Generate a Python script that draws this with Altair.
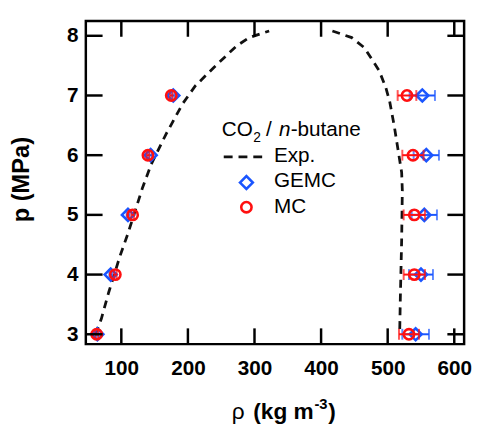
import altair as alt
import pandas as pd

# ---- data ----
pressure = [3, 4, 5, 6, 7]
gemc_vap = [64, 84, 110, 144, 178]
gemc_vap_err = [2, 2, 2, 2, 2]
mc_vap = [63, 91, 117, 140, 175]
mc_vap_err = [2, 2, 2, 2, 2]
gemc_liq = [542, 550, 555, 558, 552]
gemc_liq_err = [20, 18, 19, 19, 19]
mc_liq = [532, 540, 540, 538, 529]
mc_liq_err = [15, 16, 16, 16, 14]

exp_vap_rho = [61, 70, 81, 98, 110, 132, 145, 167, 192, 211, 239, 273, 292, 322]
exp_vap_p = [3.0, 3.26, 3.7, 4.31, 4.69, 5.46, 5.85, 6.35, 6.86, 7.16, 7.47, 7.83, 7.97, 8.08]
exp_liq_rho = [417, 446, 465, 487, 497, 503, 510, 517, 521, 522, 521, 519, 518]
exp_liq_p = [8.08, 7.97, 7.8, 7.42, 7.14, 6.9, 6.48, 5.99, 5.71, 5.41, 4.58, 3.6, 3.0]

x_ticks = [100, 200, 300, 400, 500, 600]
y_ticks = [3, 4, 5, 6, 7, 8]

# ---- layout ----
W, H = 384, 328
FONT = "Liberation Sans"
BLUE = "#1a55ff"
RED = "#ff1010"
BLACK = "#000000"

xs = alt.Scale(domain=[46.7, 614.8], nice=False, zero=False)
ys = alt.Scale(domain=[2.835, 8.248], nice=False, zero=False)
x_axis = alt.Axis(values=x_ticks, title=None, labelPadding=14, format="d")
y_axis = alt.Axis(values=y_ticks, title=None, labelPadding=8, format="d")


def X(field):
    return alt.X(field, type="quantitative", scale=xs, axis=x_axis)


def Y(field):
    return alt.Y(field, type="quantitative", scale=ys, axis=y_axis)


exp_df = pd.DataFrame({
    "rho": exp_vap_rho + exp_liq_rho,
    "p": exp_vap_p + exp_liq_p,
    "branch": ["vap"] * len(exp_vap_rho) + ["liq"] * len(exp_liq_rho),
    "i": list(range(len(exp_vap_rho) + len(exp_liq_rho))),
})


def sim_df(vap, vap_err, liq, liq_err):
    rho = vap + liq
    err = vap_err + liq_err
    return pd.DataFrame({
        "rho": rho,
        "p": pressure + pressure,
        "lo": [r - e for r, e in zip(rho, err)],
        "hi": [r + e for r, e in zip(rho, err)],
    })


gemc = sim_df(gemc_vap, gemc_vap_err, gemc_liq, gemc_liq_err)
mc = sim_df(mc_vap, mc_vap_err, mc_liq, mc_liq_err)

curve = alt.Chart(exp_df).mark_line(
    color="#111111", strokeWidth=2.8, strokeDash=[8, 6]
).encode(x=X("rho"), y=Y("p"), detail="branch:N", order="i:Q")


def sim_layers(df, color, shape, size):
    base = alt.Chart(df)
    bar = base.mark_rule(color=color, strokeWidth=2).encode(
        x=X("lo"), x2="hi", y=Y("p"))
    cap_lo = base.mark_tick(color=color, orient="vertical", size=11, thickness=2).encode(
        x=X("lo"), y=Y("p"))
    cap_hi = base.mark_tick(color=color, orient="vertical", size=11, thickness=2).encode(
        x=X("hi"), y=Y("p"))
    pts = base.mark_point(shape=shape, color=color, filled=False, strokeWidth=2.6,
                          size=size, opacity=1).encode(x=X("rho"), y=Y("p"))
    return [bar, cap_lo, cap_hi, pts]


# frame ticks (inward)
xt = pd.DataFrame({"v": x_ticks})
yt = pd.DataFrame({"v": y_ticks})
tick_style = dict(color=BLACK, strokeWidth=2.5)
tick_bottom = alt.Chart(xt).mark_rule(**tick_style).encode(
    x=X("v"), y=alt.value(H), y2=alt.value(H - 16))
tick_top = alt.Chart(xt).mark_rule(**tick_style).encode(
    x=X("v"), y=alt.value(0), y2=alt.value(16))
tick_left = alt.Chart(yt).mark_rule(**tick_style).encode(
    y=Y("v"), x=alt.value(0), x2=alt.value(17))
tick_right = alt.Chart(yt).mark_rule(**tick_style).encode(
    y=Y("v"), x=alt.value(W), x2=alt.value(W - 17))

one = pd.DataFrame({"k": [0]})


def txt(text, x, y, size, weight="normal", style="normal", align="left",
        baseline="alphabetic", angle=0):
    kw = dict(text=text, font=FONT, fontSize=size, fontWeight=weight, fontStyle=style,
              align=align, baseline=baseline, color=BLACK)
    if angle:
        kw["angle"] = angle
    return alt.Chart(one).mark_text(**kw).encode(x=alt.value(x), y=alt.value(y))


texts = [
    # y title
    txt("p (MPa)", -65, 161, 24, weight="bold", align="center", baseline="middle", angle=270),
    # x title
    txt("ρ", 148, 404, 23),
    txt("(kg m", 170, 404, 23, weight="bold"),
    txt("-3", 232, 394, 15, weight="bold"),
    txt(")", 246, 404, 23, weight="bold"),
    # legend title
    txt("CO", 138, 117, 21),
    txt("2", 170, 123, 14),
    txt("/", 183, 117, 21),
    txt("n", 196, 117, 21, style="italic"),
    txt("-butane", 208, 117, 21),
    # legend entries
    txt("Exp.", 191, 137, 21, baseline="middle"),
    txt("GEMC", 191, 163, 21, baseline="middle"),
    txt("MC", 191, 189, 21, baseline="middle"),
]

leg_line = alt.Chart(one).mark_rule(color="#111111", strokeWidth=2.8, strokeDash=[9, 6]).encode(
    x=alt.value(140), x2=alt.value(184), y=alt.value(138))
leg_diamond = alt.Chart(one).mark_point(shape="diamond", color=BLUE, filled=False,
                                        strokeWidth=2.6, size=169, opacity=1).encode(
    x=alt.value(163), y=alt.value(164))
leg_circle = alt.Chart(one).mark_point(shape="circle", color=RED, filled=False,
                                       strokeWidth=2.6, size=110, opacity=1).encode(
    x=alt.value(163), y=alt.value(189))

layers = ([curve]
          + sim_layers(gemc, BLUE, "diamond", 150)
          + sim_layers(mc, RED, "circle", 110)
          + [tick_bottom, tick_top, tick_left, tick_right, leg_line, leg_diamond, leg_circle]
          + texts)

chart = alt.layer(*layers).properties(
    width=W, height=H,
    autosize=alt.AutoSizeParams(type="none"),
    padding={"left": 79, "top": 10, "right": 8, "bottom": 85},
).configure_view(
    stroke=BLACK, strokeWidth=2.5
).configure_axis(
    domain=False, ticks=False, grid=False,
    labelFont=FONT, labelFontSize=21, labelFontWeight="bold", labelColor=BLACK,
)

chart.save("out.html", embed_options={"renderer": "svg", "actions": False})
